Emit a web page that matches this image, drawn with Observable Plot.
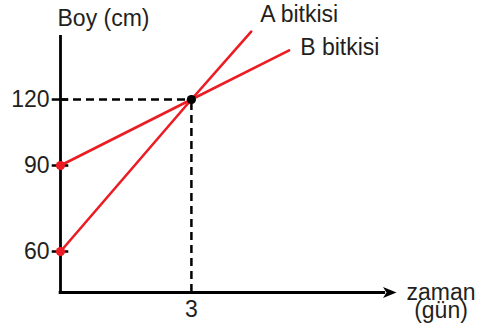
<!DOCTYPE html>
<html>
<head>
<meta charset="utf-8">
<script src="https://cdn.jsdelivr.net/npm/d3@7"></script>
<script src="https://cdn.jsdelivr.net/npm/@observablehq/plot@0.6"></script>
<style>
  html, body { margin: 0; padding: 0; background: #fff; }
</style>
</head>
<body>
<div id="chart"></div>
<script>
// ---- data ----
const seriesNames = ["A bitkisi", "B bitkisi"];
const aDays = [0, 3, 4.37];
const aHeights = [60, 120, 150.9];
const bDays = [0, 3, 5.24];
const bHeights = [90, 120, 142.3];
const yTicks = [60, 90, 120];
const yTickLabels = ["60", "90", "120"];
const xTicks = [3];
const xTickLabels = ["3"];
const refDay = 3;
const refHeight = 120;
const yAxisTitle = "Boy (cm)";
const xAxisTitle = ["zaman", "(gün)"];

// schematic axis: the 60–90 band is drawn stretched (as in the original sketch)
const stretchBelow = 90, stretchFactor = 1.303;
const schematic = v => v >= stretchBelow ? v : stretchBelow - (stretchBelow - v) * stretchFactor;

const xMin = 0, xMax = 7.7;
const yMin = 45.7, yMax = 149.1;

const red = "#ec1c24";
const ink = "#231f20";
const font = "Liberation Sans, Arial, Helvetica, sans-serif";
const fs = 23;

const rows = [
  ...aDays.map((d, i) => ({series: seriesNames[0], day: d, height: aHeights[i]})),
  ...bDays.map((d, i) => ({series: seriesNames[1], day: d, height: bHeights[i]}))
];
const starts = rows.filter(r => r.day === 0);
const endA = rows.filter(r => r.series === seriesNames[0]).at(-1);
const endB = rows.filter(r => r.series === seriesNames[1]).at(-1);
const Y = d => schematic(d.height);

// filled arrowhead pointing right, tip at the point
const arrowHead = {
  draw(ctx) {
    ctx.moveTo(0, 0);
    ctx.lineTo(-13.5, -5.5);
    ctx.lineTo(-10, 0);
    ctx.lineTo(-13.5, 5.5);
    ctx.closePath();
  }
};

const txt = {fontSize: fs, fill: ink, fontFamily: font, lineAnchor: "middle"};

const chart = Plot.plot({
  width: 489,
  height: 331,
  marginLeft: 60,
  marginRight: 93,
  marginTop: 35,
  marginBottom: 39,
  style: {fontFamily: font, background: "#fff"},
  x: {domain: [xMin, xMax], axis: null},
  y: {domain: [schematic(yMin), schematic(yMax)], axis: null},
  marks: [
    // dashed reference lines
    Plot.ruleY([schematic(refHeight)], {x1: 0, x2: refDay, stroke: "#000", strokeWidth: 2.5, strokeDasharray: "8,5"}),
    Plot.ruleX([refDay], {y1: schematic(yMin), y2: schematic(refHeight), stroke: "#000", strokeWidth: 2.5, strokeDasharray: "8,5"}),
    // axes
    Plot.ruleX([xMin], {y1: schematic(yMin), y2: schematic(yMax), stroke: "#000", strokeWidth: 2.8}),
    Plot.ruleY([schematic(yMin)], {x1: xMin - 0.03, x2: xMax - 0.25, stroke: "#000", strokeWidth: 2.8}),
    Plot.dot([xMax], {x: d => d, y: schematic(yMin), symbol: arrowHead, fill: "#000", stroke: "none"}),
    // y ticks
    Plot.ruleY(yTicks.map(schematic), {x1: -0.19, x2: 0.19, stroke: "#000", strokeWidth: 2.5}),
    // lines
    Plot.line(rows, {x: "day", y: Y, z: "series", stroke: red, strokeWidth: 2.6}),
    Plot.dot(starts, {x: "day", y: Y, r: 4.6, fill: red}),
    Plot.dot([{day: refDay, height: refHeight}], {x: "day", y: Y, r: 4.6, fill: "#000"}),
    // tick labels
    Plot.text(yTicks, {...txt, x: 0, y: d => schematic(d), text: (d, i) => yTickLabels[i], dx: -11, textAnchor: "end"}),
    Plot.text(xTicks, {...txt, x: d => d, y: schematic(yMin), text: (d, i) => xTickLabels[i], dy: 17.6}),
    // series labels
    Plot.text([endA], {...txt, x: "day", y: Y, text: "series", dx: 9, dy: -17.4, textAnchor: "start"}),
    Plot.text([endB], {...txt, x: "day", y: Y, text: "series", dx: 11, dy: -2.4, textAnchor: "start"}),
    // axis titles
    Plot.text([yAxisTitle], {...txt, frameAnchor: "top-left", dx: 43, dy: -16.4, textAnchor: "middle"}),
    Plot.text([xAxisTitle[0]], {...txt, frameAnchor: "bottom-right", dx: 44.5, dy: 0.1, textAnchor: "middle"}),
    Plot.text([xAxisTitle[1]], {...txt, frameAnchor: "bottom-right", dx: 44.5, dy: 18.6, textAnchor: "middle"})
  ]
});
document.getElementById("chart").appendChild(chart);
</script>
</body>
</html>
